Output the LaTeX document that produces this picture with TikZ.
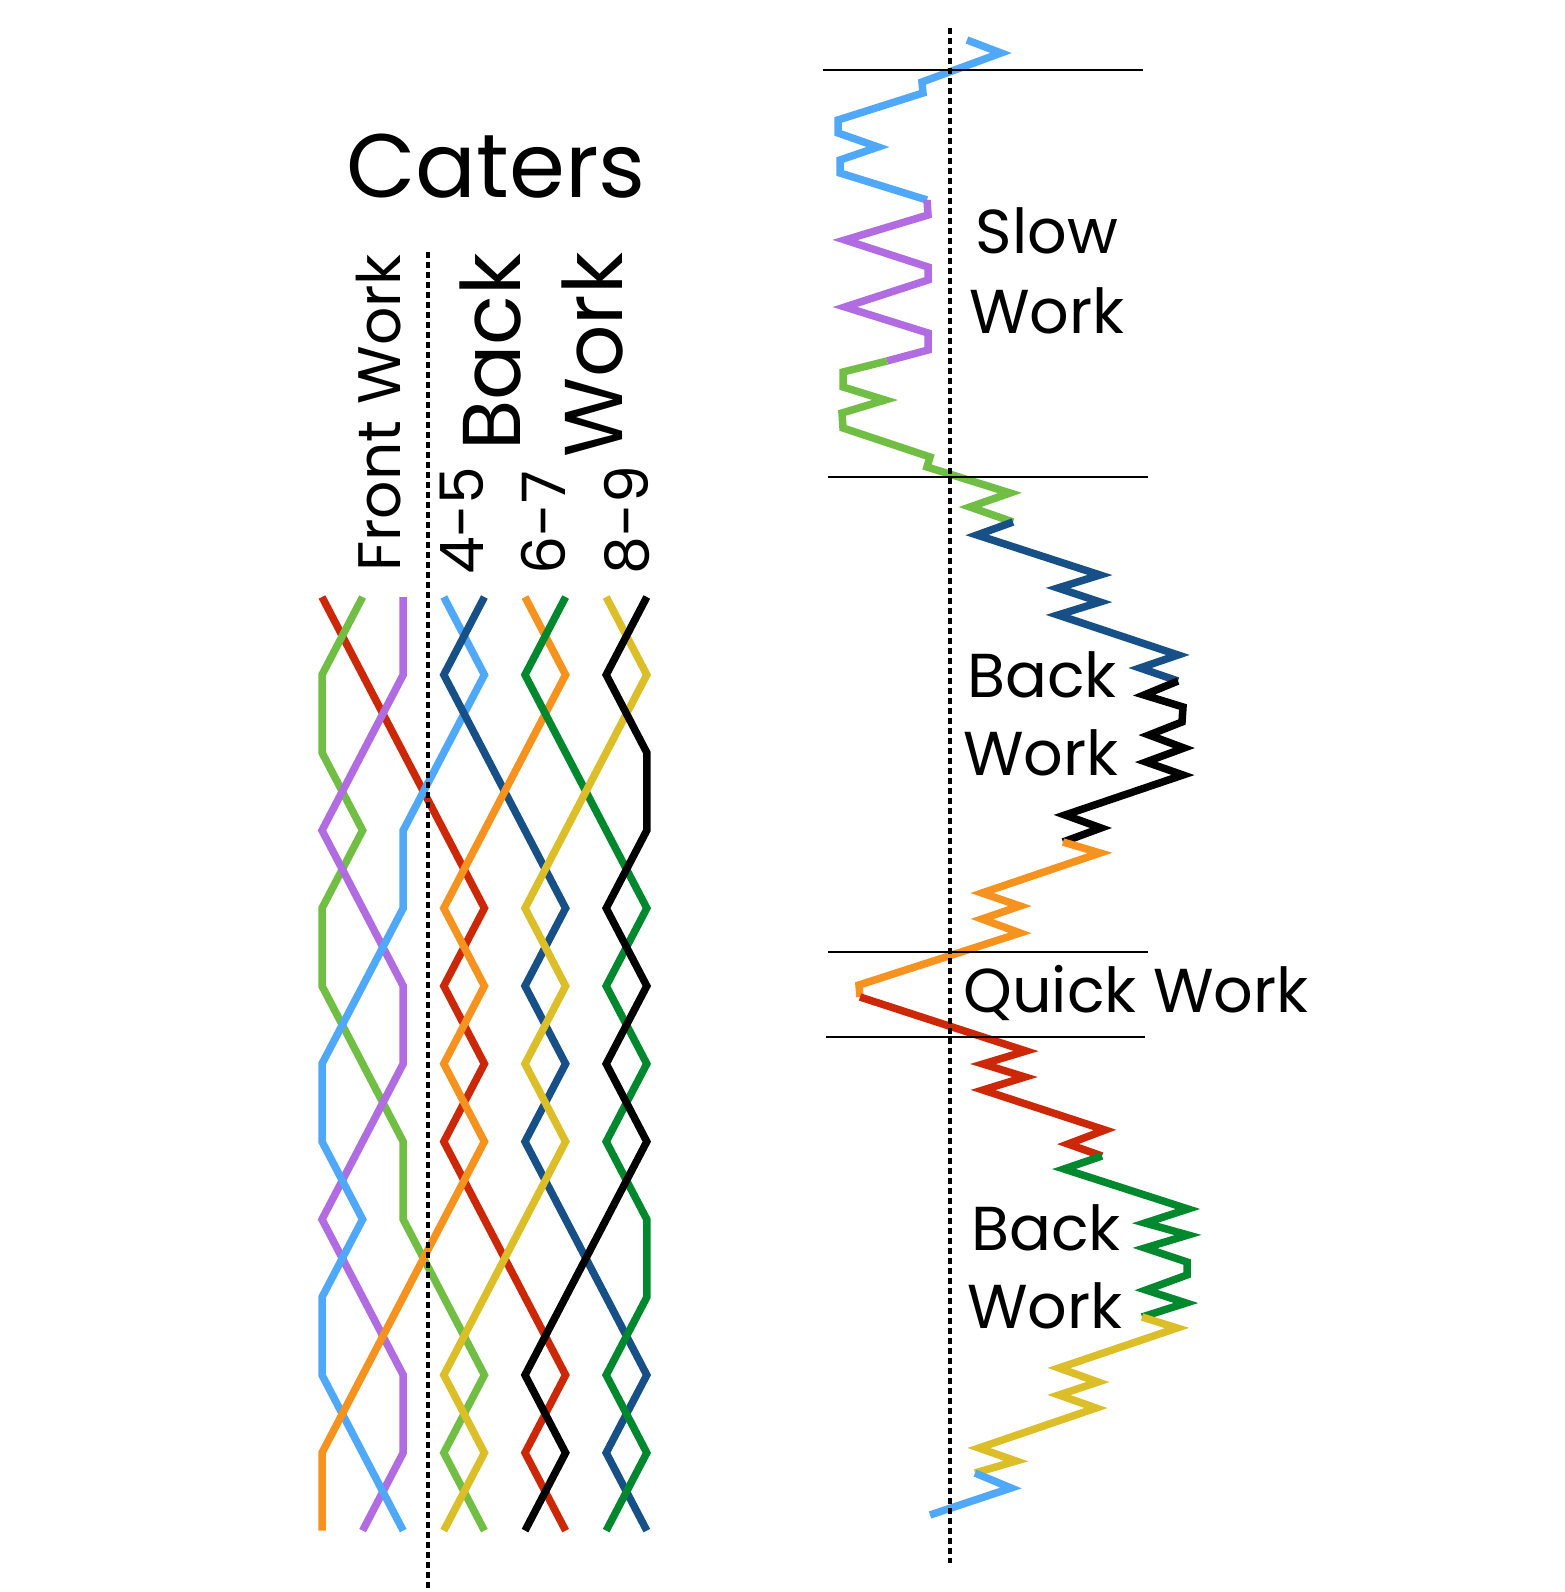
\documentclass[tikz,border=0pt]{standalone}
\usepackage{fontspec}
\setmainfont{Poppins}
\definecolor{bellred}{RGB}{204,40,8}
\definecolor{bellgreen}{RGB}{112,190,68}
\definecolor{bellpurple}{RGB}{176,108,224}
\definecolor{bellsky}{RGB}{80,168,248}
\definecolor{bellnavy}{RGB}{22,80,134}
\definecolor{bellorange}{RGB}{246,146,30}
\definecolor{bellforest}{RGB}{0,136,46}
\definecolor{bellyellow}{RGB}{220,190,40}
\tikzset{
  bellline/.style={line width=7.5pt, line join=miter},
  sepline/.style={line width=3.3pt, dash pattern=on 6pt off 4pt},
  ruleline/.style={line width=2.8pt},
  lbl/.style={inner sep=0pt, text=black},
}

\begin{document}
\begin{tikzpicture}[
  x=1pt, y=-1pt,
  titlefont/.style={lbl, font=\fontsize{90}{96}\selectfont},
  sidefont/.style={lbl, font=\fontsize{60}{66}\selectfont, rotate=90, anchor=base west},
  backfont/.style={lbl, font=\fontsize{82}{90}\selectfont, rotate=90, anchor=base},
  workfont/.style={lbl, font=\fontsize{62}{68}\selectfont, anchor=base},
]
  \fill[white] (0,0) rectangle (1564,1592);
  \useasboundingbox (0,0) rectangle (1564,1592);

  \node[titlefont, anchor=base] (caters) at (496,197) {Caters};
  \node[sidefont] (front) at (400,572) {Front Work};
  \node[sidefont] (p45) at (483,575) {4-5};
  \node[sidefont] (p67) at (565,575) {6-7};
  \node[sidefont] (p89) at (648,575) {8-9};
  \node[backfont] (backv) at (520,352) {Back};
  \node[backfont] (workv) at (622,355) {Work};

  \foreach \p in {1,...,9}
    \foreach \r in {0,...,12}
      \coordinate (g\p-\r) at ({322+40.6*(\p-1)},{597+77.8*\r});

  \draw[bellline, draw=bellred] (g1-0) \foreach \p [count=\r] in {2,3,4,5,4,5,4,5,6,7,6,7} { -- (g\p-\r) };
  \draw[bellline, draw=bellgreen] (g2-0) \foreach \p [count=\r] in {1,1,2,1,1,2,3,3,4,5,4,5} { -- (g\p-\r) };
  \draw[bellline, draw=bellpurple] (g3-0) \foreach \p [count=\r] in {3,2,1,2,3,3,2,1,2,3,3,2} { -- (g\p-\r) };
  \draw[bellline, draw=bellsky] (g4-0) \foreach \p [count=\r] in {5,4,3,3,2,1,1,2,1,1,2,3} { -- (g\p-\r) };
  \draw[bellline, draw=bellnavy] (g5-0) \foreach \p [count=\r] in {4,5,6,7,6,7,6,7,8,9,8,9} { -- (g\p-\r) };
  \draw[bellline, draw=bellorange] (g6-0) \foreach \p [count=\r] in {7,6,5,4,5,4,5,4,3,2,1,1} { -- (g\p-\r) };
  \draw[bellline, draw=bellforest] (g7-0) \foreach \p [count=\r] in {6,7,8,9,8,9,8,9,9,8,9,8} { -- (g\p-\r) };
  \draw[bellline, draw=bellyellow] (g8-0) \foreach \p [count=\r] in {9,8,7,6,7,6,7,6,5,4,5,4} { -- (g\p-\r) };
  \draw[bellline, draw=black] (g9-0) \foreach \p [count=\r] in {8,9,9,8,9,8,9,8,7,6,7,6} { -- (g\p-\r) };

  \draw[sepline] (428,252) -- (428,1592);

  % course of the work, one colour per bell
  \draw[bellline, draw=bellsky] (967,40) -- (1001,53) -- (922,82) -- (923,93) -- (838,120) -- (838,133)
    -- (878,147) -- (840,160) -- (840,173) -- (927,200);
  \draw[bellline, draw=bellpurple] (927,200) -- (928,215) -- (845,240) -- (928,267) -- (928,280)
    -- (845,307) -- (928,333) -- (928,350) -- (887,361);
  \draw[bellline, draw=bellgreen] (887,361) -- (843,372) -- (843,387) -- (885,400) -- (842,413)
    -- (843,428) -- (930,457) -- (927,467) -- (1010,493) -- (970,507) -- (1013,522);
  \draw[bellline, draw=bellnavy] (1013,522) -- (977,535) -- (1100,575) -- (1058,588) -- (1100,602)
    -- (1058,615) -- (1178,655) -- (1140,668) -- (1178,681);
  \draw[bellline, draw=black] (1178,681) -- (1144,695) -- (1183,707) -- (1182,722) -- (1149,735)
    -- (1184,748) -- (1146,762) -- (1183,775) -- (1065,815) -- (1101,828) -- (1063,842);
  \draw[bellline, draw=bellorange] (1063,842) -- (1100,853) -- (982,893) -- (1020,906) -- (982,919)
    -- (1020,933) -- (859,985) -- (860,997);
  \draw[bellline, draw=bellred] (860,997) -- (1026,1051) -- (983,1064) -- (1025,1077) -- (983,1090)
    -- (1105,1130) -- (1068,1144) -- (1102,1156);
  \draw[bellline, draw=bellforest] (1102,1156) -- (1064,1169) -- (1188,1209) -- (1145,1223) -- (1188,1235)
    -- (1145,1248) -- (1187,1262) -- (1187,1275) -- (1146,1290) -- (1186,1303) -- (1142,1317);
  \draw[bellline, draw=bellyellow] (1142,1317) -- (1177,1328) -- (1059,1368) -- (1098,1382) -- (1059,1395)
    -- (1096,1408) -- (979,1448) -- (1016,1461) -- (975,1473);
  \draw[bellline, draw=bellsky] (975,1473) -- (1011,1488) -- (930,1515);

  \draw[ruleline] (823,70) -- (1143,70);
  \draw[ruleline] (828,477) -- (1148,477);
  \draw[ruleline] (828,952) -- (1148,952);
  \draw[ruleline] (826,1037) -- (1145,1037);
  \draw[sepline] (950,28) -- (950,1563);

  \node[workfont] (slow) at (1047,253) {Slow};
  \node[workfont] (sloww) at (1047,333) {Work};
  \node[workfont] (back1) at (1042,697) {Back};
  \node[workfont] (back1w) at (1041,775) {Work};
  \node[workfont, anchor=base west] (quick) at (963,1012) {Quick Work};
  \node[workfont] (back2) at (1046,1250) {Back};
  \node[workfont] (back2w) at (1045,1328) {Work};
\end{tikzpicture}
\end{document}
